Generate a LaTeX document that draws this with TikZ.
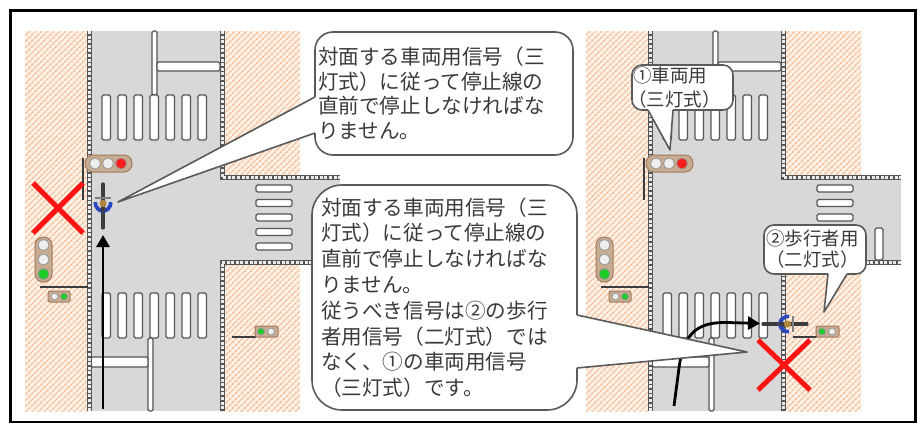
\documentclass[tikz,border=0pt]{standalone}
\usepackage{fontspec}
\newfontfamily\jp{Noto Sans CJK JP}
\usetikzlibrary{calc,patterns.meta,arrows.meta}

\definecolor{roadgray}{RGB}{216,216,216}
\definecolor{walkbg}{RGB}{255,242,232}
\definecolor{walkline}{RGB}{243,182,140}
\definecolor{walkcross}{RGB}{250,215,190}
\definecolor{markline}{RGB}{85,85,85}
\definecolor{curbface}{RGB}{235,235,235}
\definecolor{calloutline}{RGB}{90,90,90}
\definecolor{textgray}{RGB}{58,58,58}
\definecolor{sigbody}{RGB}{200,172,145}
\definecolor{sigedge}{RGB}{160,122,92}
\definecolor{lampoff}{RGB}{238,238,238}
\definecolor{lampedge}{RGB}{150,150,150}
\definecolor{lampred}{RGB}{255,30,30}
\definecolor{lampgreen}{RGB}{30,205,40}
\definecolor{xred}{RGB}{255,20,20}
\definecolor{bikeblue}{RGB}{40,70,190}
\definecolor{bikehead}{RGB}{175,135,60}
\definecolor{bikedark}{RGB}{60,60,60}

\tikzset{
  walk/.style={fill=walkbg,
    postaction={pattern={Lines[angle=-45,distance=4pt,line width=0.6pt]}, pattern color=walkcross},
    postaction={pattern={Lines[angle=45,distance=4pt,line width=1.1pt]}, pattern color=walkline}},
  bar/.style={fill=white, draw=markline, line width=1.1pt, rounded corners=1.5pt},
  kerb/.style={draw=markline, line width=5pt, postaction={draw=curbface, line width=3pt, dash pattern=on 3pt off 1.6pt}},
  pole/.style={draw=bikedark, line width=1.8pt},
  sigcase/.style={fill=sigbody, draw=sigedge, line width=1pt},
  lamp/.style={fill=lampoff, draw=lampedge, line width=0.8pt},
  redlamp/.style={fill=lampred, draw=lampedge, line width=0.8pt},
  greenlamp/.style={fill=lampgreen, draw=lampedge, line width=0.8pt},
  crossmark/.style={draw=xred, line width=5pt},
  route/.style={draw=black, line width=2.8pt, -{Triangle[width=13pt,length=12pt]}},
  callout/.style={draw=calloutline, line width=1.6pt, fill=white, text=textgray,
    align=left, inner ysep=0pt, outer sep=0pt},
  pointer/.style={draw=calloutline, line width=1.6pt, line join=round},
  % one crossroads with its markings, kerbs and signals
  pics/crossing/.style={code={
    \path[walk] (25,31) rectangle (88,411);
    \path[walk] (222,31) rectangle (300,177);
    \path[walk] (222,262) rectangle (300,411);
    \fill[roadgray] (88,31) rectangle (222,411);
    \fill[roadgray] (222,177) rectangle (340,262);
    % centre lines and stop lines
    \draw[bar] (152,31) rectangle (157,95);
    \draw[bar] (157,62) rectangle (220,71);
    \draw[bar] (148,338) rectangle (153,411);
    \draw[bar] (91,357) rectangle (148,367);
    \draw[bar] (314,228) rectangle (322,260);
    % zebra crossings
    \foreach \i in {0,...,6} {
      \draw[bar] (102+16*\i,95) rectangle ++(8.5,45);
      \draw[bar] (102+16*\i,293) rectangle ++(8.5,45);
    }
    \foreach \i in {0,...,4}
      \draw[bar] (256,185+14.5*\i) rectangle ++(36,7);
    % kerbs
    \draw[kerb] (89.5,31) -- (89.5,411);
    \draw[kerb] (222,31) -- (222,177) -- (340,177);
    \draw[kerb] (340,262) -- (222,262) -- (222,411);
    % vehicle signal over the road
    \draw[pole] (83,158) -- (83,200);
    \draw[sigcase, rounded corners=8pt] (85,155) rectangle (132,172);
    \draw[lamp] (95,163.5) circle[radius=5.5];
    \draw[lamp] (108,163.5) circle[radius=5.5];
    \draw[redlamp] (121,163.5) circle[radius=5.5];
    % vehicle signal on the left pavement
    \draw[sigcase, rounded corners=8pt] (35,237) rectangle (52,282);
    \draw[lamp] (43.5,245) circle[radius=5.5];
    \draw[lamp] (43.5,259.5) circle[radius=5.5];
    \draw[greenlamp] (43.5,274) circle[radius=5.5];
    \draw[pole] (40,287) -- (88,287);
    % pedestrian signals
    \draw[sigcase, rounded corners=2pt] (48,291) rectangle (70,302);
    \draw[lamp] (54.5,296.5) circle[radius=3.5];
    \draw[greenlamp] (64,296.5) circle[radius=3.5];
    \draw[pole] (232,337) -- (256,337);
    \draw[sigcase, rounded corners=2pt] (255,326) rectangle (278,337);
    \draw[greenlamp] (261,331.5) circle[radius=3.5];
    \draw[lamp] (271,331.5) circle[radius=3.5];
  }},
  % a rider seen from above, heading up
  pics/bicycle/.style={code={
    \draw[bikedark, line width=3.2pt, line cap=round] (0,-22) -- (0,22);
    \draw[gray, line width=1.3pt] (-8,-8) -- (8,-8);
    \fill[bikeblue] (-9.5,-4) .. controls (-9.5,10.5) and (9.5,10.5) .. (9.5,-4)
      -- (6,-4) .. controls (6,5) and (-6,5) .. (-6,-4) -- cycle;
    \fill[bikehead] (0,-2.5) circle[radius=3.6];
    \fill[bikedark] (0,3.5) circle[radius=2.6];
  }}
}

\begin{document}
\begin{tikzpicture}[x=1pt,y=-1pt]
\useasboundingbox (0,0) rectangle (921,424);
\fill[white] (0,0) rectangle (921,424);

% the two crossroads
\pic at (0,0) {crossing};
\pic at (561,0) {crossing};

% left: riding straight on
\coordinate (a1s) at (103,409);
\coordinate (a1e) at (103,235);
\draw[route] (a1s) -- (a1e);
\pic at (103,206) {bicycle};
\draw[crossmark] (33,183) -- (83,233) (83,183) -- (33,233);

% right: turning onto the pedestrian crossing
\coordinate (a2s) at (674,406);
\coordinate (a2e) at (760,323.5);
\draw[route] (a2s) -- (679,368) .. controls (684,330) and (700,322) .. (728,322.5) -- (a2e);
\pic[rotate=-90] at (785,324) {bicycle};
\draw[crossmark] (758,340) -- (810,390) (810,340) -- (758,390);

% callouts
\coordinate (p1) at (118,202);
\coordinate (p2) at (747,352);
\coordinate (p3) at (670,150);
\coordinate (p4) at (824,312);

\node[callout, rounded corners=18pt, minimum width=258pt, minimum height=123pt,
  text width=252pt, inner xsep=3pt, font=\jp\fontsize{20.6pt}{24.5pt}\selectfont]
  (c1) at (444,93.5) {対面する車両用信号（三\\灯式）に従って停止線の\\直前で停止しなければな\\りません。};
\fill[white] ($(c1.west)+(3,3.5)$) -- ($(c1.west)+(0,3.5)$) -- (p1) -- ($(c1.west)+(0,39.5)$) -- ($(c1.west)+(3,39.5)$) -- cycle;
\draw[pointer] ($(c1.west)+(0,3.5)$) -- (p1) -- ($(c1.west)+(0,39.5)$);

\node[callout, rounded corners=30pt, minimum width=265pt, minimum height=225pt,
  text width=247pt, inner xsep=9pt, font=\jp\fontsize{20.6pt}{25.8pt}\selectfont]
  (c2) at (444.5,297.5) {対面する車両用信号（三\\灯式）に従って停止線の\\直前で停止しなければな\\りません。\\従うべき信号は②の歩行\\者用信号（二灯式）では\\なく、①の車両用信号\\（三灯式）です。};
\fill[white] ($(c2.east)+(-3,17.5)$) -- ($(c2.east)+(0,17.5)$) -- (p2) -- ($(c2.east)+(0,70.5)$) -- ($(c2.east)+(-3,70.5)$) -- cycle;
\draw[pointer] ($(c2.east)+(0,17.5)$) -- (p2) -- ($(c2.east)+(0,70.5)$);

\node[callout, rounded corners=10pt, minimum width=101pt, minimum height=45pt,
  text width=99pt, inner xsep=1pt, font=\jp\fontsize{18.5pt}{24pt}\selectfont]
  (c3) at (682.5,87.5) {①車両用\\\hspace*{-5pt}（三灯式）};
\fill[white] ($(c3.south)+(-34.5,-3)$) -- ($(c3.south)+(-34.5,0)$) -- (p3) -- ($(c3.south)+(-9.5,0)$) -- ($(c3.south)+(-9.5,-3)$) -- cycle;
\draw[pointer] ($(c3.south)+(-34.5,0)$) -- (p3) -- ($(c3.south)+(-9.5,0)$);

\node[callout, rounded corners=10pt, minimum width=102pt, minimum height=49pt,
  text width=98pt, inner xsep=2pt, font=\jp\fontsize{18.5pt}{21pt}\selectfont]
  (c4) at (815,249.5) {②歩行者用\\（二灯式）};
\fill[white] ($(c4.south)+(13,-3)$) -- ($(c4.south)+(13,0)$) -- (p4) -- ($(c4.south)+(32,0)$) -- ($(c4.south)+(32,-3)$) -- cycle;
\draw[pointer] ($(c4.south)+(13,0)$) -- (p4) -- ($(c4.south)+(32,0)$);

% outer frame
\draw[black, line width=2.2pt] (10.5,10.5) rectangle (915.5,422);
\end{tikzpicture}
\end{document}
